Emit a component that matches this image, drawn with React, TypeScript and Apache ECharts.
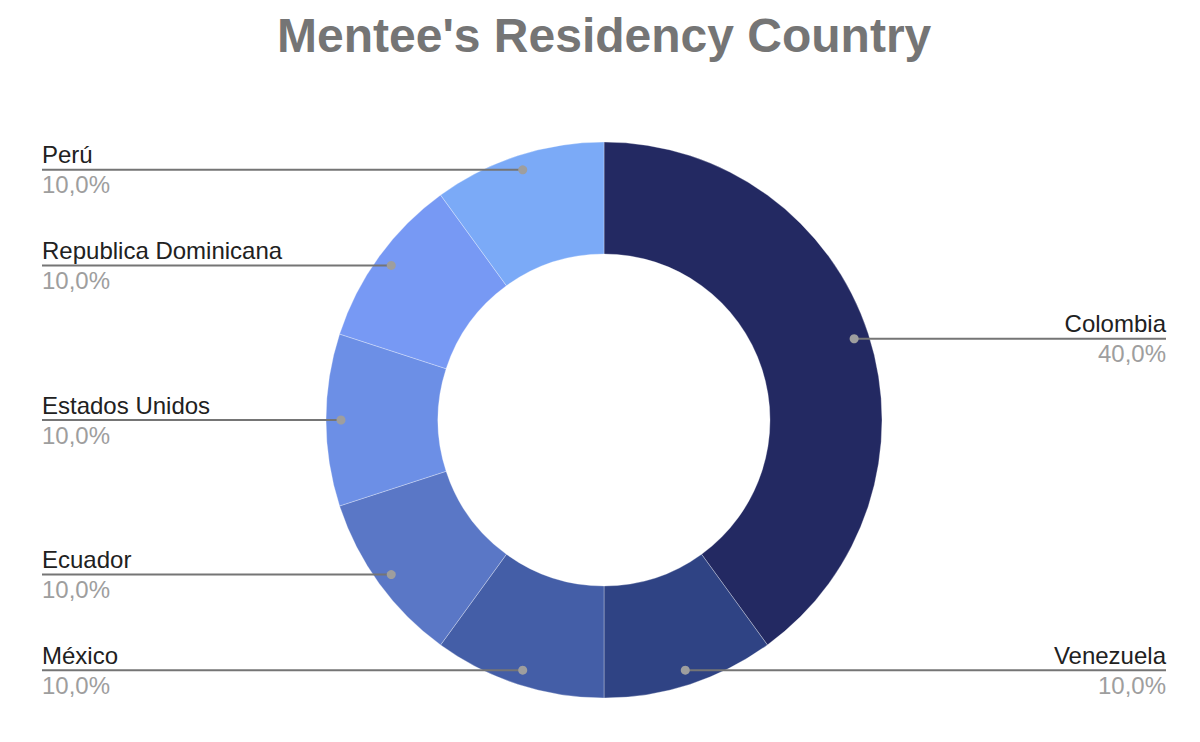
import React, { useEffect, useRef } from "react";
import * as echarts from "echarts";

const titleText = "Mentee's Residency Country";
const countries = [
  "Colombia",
  "Venezuela",
  "México",
  "Ecuador",
  "Estados Unidos",
  "Republica Dominicana",
  "Perú",
];
const values = [40, 10, 10, 10, 10, 10, 10];
const colors = [
  "#232962",
  "#2f4384",
  "#445ea7",
  "#5a77c6",
  "#6c8fe6",
  "#7799f4",
  "#7baaf7",
];

const CX = 604;
const CY = 420;
const R_OUT = 278;
const R_IN = 166;
const DOT_R = 263;
const LEFT_EDGE = 42;
const RIGHT_EDGE = 1166;
const FONT = "'Liberation Sans', Arial, sans-serif";

const total = values.reduce((a, b) => a + b, 0);
const midAngles: number[] = [];
{
  let acc = 0;
  values.forEach((v) => {
    midAngles.push(((acc + v / 2) / total) * 360);
    acc += v;
  });
}
const dotPos = (i: number) => {
  const rad = (midAngles[i] * Math.PI) / 180;
  return [CX + DOT_R * Math.sin(rad), CY - DOT_R * Math.cos(rad)];
};

export default function App() {
  const ref = useRef<HTMLDivElement>(null);
  useEffect(() => {
    if (!ref.current) return;
    const chart = echarts.init(ref.current, undefined, { renderer: "svg" });
    chart.setOption({
      animation: false,
      backgroundColor: "#ffffff",
      title: {
        text: titleText,
        left: 277,
        top: 11,
        padding: 0,
        textStyle: {
          fontSize: 48,
          fontWeight: "bold",
          color: "#757575",
          fontFamily: FONT,
        },
      },
      series: [
        {
          type: "pie",
          center: [CX, CY],
          radius: [R_IN, R_OUT],
          startAngle: 90,
          clockwise: true,
          data: countries.map((c, i) => ({
            name: c,
            value: values[i],
            itemStyle: { color: colors[i] },
          })),
          itemStyle: { borderColor: "rgba(255,255,255,0.5)", borderWidth: 0.6 },
          label: {
            show: true,
            position: "outside",
            formatter: (p: any) =>
              "{n|" + p.name + "}\n{p|" + p.percent.toFixed(1).replace(".", ",") + "%}",
            rich: {
              n: { fontSize: 24, color: "#212121", lineHeight: 30, fontFamily: FONT },
              p: { fontSize: 24, color: "#9e9e9e", lineHeight: 30, fontFamily: FONT },
            },
          },
          labelLine: { show: false },
          labelLayout: (params: any) => {
            const [x, y] = dotPos(params.dataIndex);
            const right = x > CX;
            return {
              x: right ? RIGHT_EDGE : LEFT_EDGE,
              y: y,
              align: right ? "right" : "left",
              verticalAlign: "middle",
            };
          },
          emphasis: { disabled: true },
          z: 2,
        },
        {
          type: "custom",
          coordinateSystem: "none",
          data: values,
          z: 5,
          silent: true,
          renderItem: (params: any) => {
            const [x, y] = dotPos(params.dataIndex);
            const edge = x > CX ? RIGHT_EDGE : LEFT_EDGE;
            return {
              type: "group",
              children: [
                {
                  type: "line",
                  shape: { x1: x, y1: y, x2: edge, y2: y },
                  style: { stroke: "#757575", lineWidth: 2 },
                },
                {
                  type: "circle",
                  shape: { cx: x, cy: y, r: 4.5 },
                  style: { fill: "#9e9e9e" },
                },
              ],
            };
          },
        },
      ],
    });
    return () => chart.dispose();
  }, []);
  return (
    <div
      ref={ref}
      style={{ position: "fixed", left: 0, top: 0, width: 1200, height: 742 }}
    />
  );
}
